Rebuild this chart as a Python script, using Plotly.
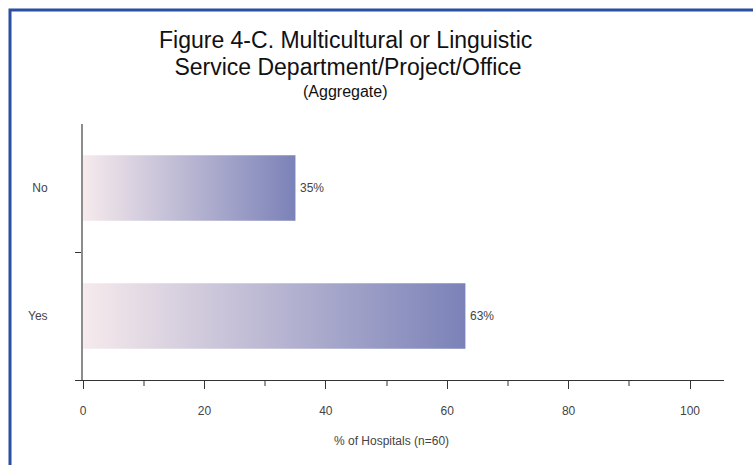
import plotly.graph_objects as go

# data
categories = ["Yes", "No"]
cat_pos = [0.5, 1.5]
values = [63, 35]
value_labels = ["63%", "35%"]
x_ticks = [0, 20, 40, 60, 80, 100]
x_minor = [10, 30, 50, 70, 90]
y_minor = [0, 1]
title_lines = [
    "Figure 4-C. Multicultural or Linguistic",
    " Service Department/Project/Office",
    "(Aggregate)",
]

bar_half = 0.255
grad = [[0, "#f6eaec"], [1, "#7b82b8"]]
txt_font = "Liberation Sans, Arial, sans-serif"

fig = go.Figure()

# gradient bars, drawn as filled boxes
for cat, pos, val in zip(categories, cat_pos, values):
    fig.add_trace(
        go.Scatter(
            x=[0, val, val, 0, 0],
            y=[pos - bar_half, pos - bar_half, pos + bar_half, pos + bar_half, pos - bar_half],
            fill="toself",
            fillgradient=dict(type="horizontal", start=0, stop=val, colorscale=grad),
            mode="none",
            name=cat,
            showlegend=False,
            hoverinfo="skip",
        )
    )

annos = []
# value labels at bar ends
for pos, val, lab in zip(cat_pos, values, value_labels):
    annos.append(dict(text=lab, x=val, y=pos, xref="x", yref="y",
                      xanchor="left", yanchor="middle", xshift=3, showarrow=False,
                      font=dict(family=txt_font, size=12, color="#444")))

# title, one annotation per line
title_y = [40, 67, 91]
title_size = [23, 23, 16]
for line, ty, sz in zip(title_lines, title_y, title_size):
    annos.append(dict(text=line, xref="paper", yref="paper",
                      x=(345 - 83) / 641, y=(380 - ty) / 256,
                      xanchor="center", yanchor="middle", showarrow=False,
                      font=dict(family=txt_font, size=sz, color="#111")))

annos.append(dict(text="% of Hospitals (n=60)", xref="paper", yref="paper",
                  x=(391 - 83) / 641, y=(380 - 441) / 256, showarrow=False,
                  xanchor="center", yanchor="middle",
                  font=dict(family=txt_font, size=12, color="#444")))

fig.update_layout(
    width=753,
    height=465,
    margin=dict(l=83, r=29, t=124, b=85),
    paper_bgcolor="white",
    plot_bgcolor="white",
    shapes=[
        # dark blue frame around the picture
        dict(type="rect", xref="paper", yref="paper",
             x0=(10 - 83) / 641, x1=1.6, y0=-1.0, y1=(380 - 10) / 256,
             line=dict(color="#2b4fa0", width=3)),
    ],
    annotations=annos,
)

fig.update_xaxes(
    range=[0, 105.6],
    tickmode="array",
    tickvals=x_ticks,
    ticks="outside",
    ticklen=8,
    tickcolor="#333",
    showline=True,
    linecolor="#333",
    linewidth=1,
    showgrid=False,
    zeroline=False,
    ticklabelstandoff=12,
    tickfont=dict(family=txt_font, size=12, color="#444"),
    minor=dict(tickmode="array", tickvals=x_minor, ticks="outside",
               ticklen=5, tickcolor="#999", tickwidth=2),
)

fig.update_yaxes(
    range=[0, 2],
    tickmode="array",
    tickvals=cat_pos,
    ticktext=categories,
    ticks="",
    showline=True,
    linecolor="#8c8c8c",
    linewidth=2,
    showgrid=False,
    zeroline=False,
    ticklabelstandoff=31,
    tickfont=dict(family=txt_font, size=12, color="#444"),
    minor=dict(tickmode="array", tickvals=y_minor, ticks="outside",
               ticklen=6, tickcolor="#333", tickwidth=1),
)

fig.write_html(
    "out.html",
    config={"displayModeBar": False},
    post_script="document.body.style.margin='0px';document.body.style.overflow='hidden';",
)
